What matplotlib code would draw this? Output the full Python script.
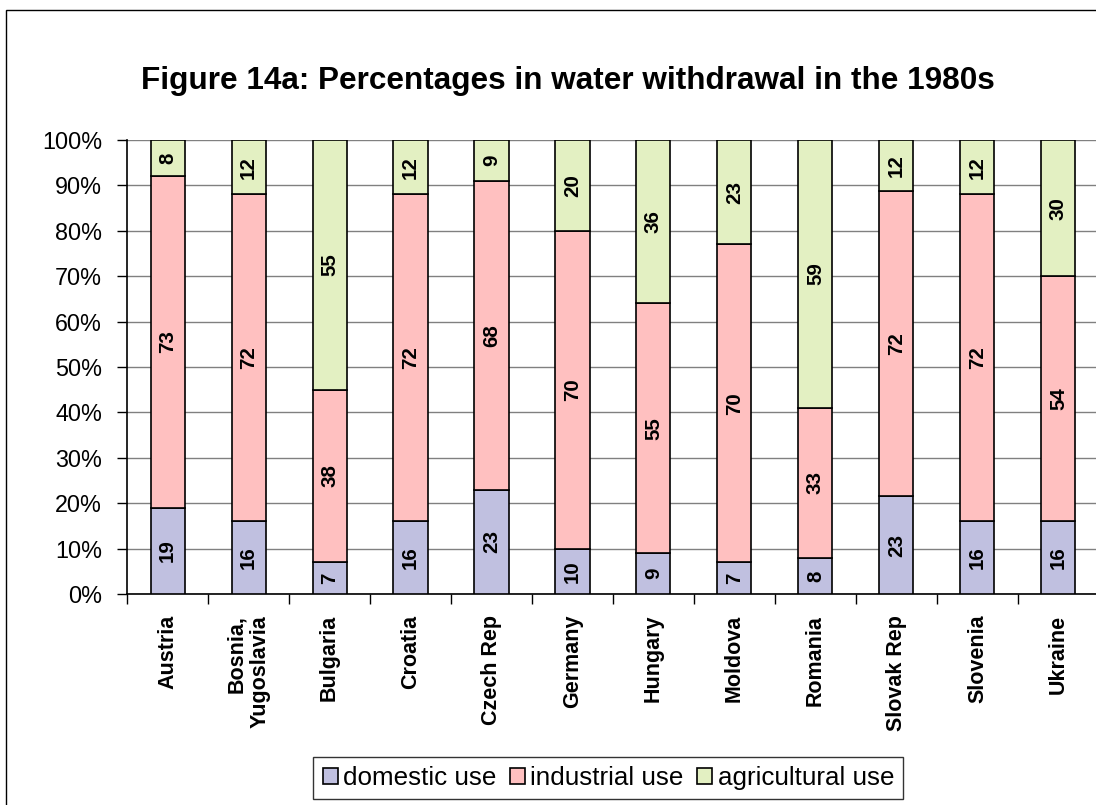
#!/usr/bin/env python3
"""Figure 14a - percentages in water withdrawal in the 1980s.

    100% stacked bar chart: domestic, industrial and agricultural use.
"""
import numpy as np
import matplotlib.pyplot as plt
import matplotlib.patches as mpatches

#---------------------------- Data -------------------------------------
countries = ['Austria', 'Bosnia,\nYugoslavia', 'Bulgaria', 'Croatia',
             'Czech Rep', 'Germany', 'Hungary', 'Moldova', 'Romania',
             'Slovak Rep', 'Slovenia', 'Ukraine']
domestic = [19, 16, 7, 16, 23, 10, 9, 7, 8, 23, 16, 16]
industrial = [73, 72, 38, 72, 68, 70, 55, 70, 33, 72, 72, 54]
agricultural = [8, 12, 55, 12, 9, 20, 36, 23, 59, 12, 12, 30]

series_names = ['domestic use', 'industrial use', 'agricultural use']
series_colors = ['#C0C0E0', '#FFC0C0', '#E3F0C2']
pct_ticks = [0, 10, 20, 30, 40, 50, 60, 70, 80, 90, 100]

TITLE = 'Figure 14a: Percentages in water withdrawal in the 1980s'


#---------------------------- main -------------------------------------
def main():
    plt.rcParams['font.family'] = ['Liberation Sans', 'DejaVu Sans']

    fig = plt.figure(figsize=(10.96, 8.05), dpi=100)
    ax = fig.add_axes([0.1159, 0.2621, 0.8868, 0.5640])

    # normalise each country to 100% (rows don't always add up exactly)
    raw = np.array([domestic, industrial, agricultural], dtype=float)
    shares = raw / raw.sum(axis=0) * 100.0

    x = np.arange(len(countries))
    bottom = np.zeros(len(countries))
    for i in range(len(series_names)):
        ax.bar(x, shares[i], 0.42, bottom=bottom, color=series_colors[i],
               edgecolor='black', linewidth=1.2, label=series_names[i],
               zorder=3)
        # value labels, centred in each segment
        for j in range(len(countries)):
            ax.text(x[j], bottom[j] + shares[i][j] / 2.0, str(int(raw[i][j])),
                    rotation=90, ha='center', va='center', fontsize=14.8,
                    fontweight='bold', zorder=4)
        bottom = bottom + shares[i]

    # axes look
    ax.set_xlim(-0.5, len(countries) - 0.5)
    ax.set_ylim(0, 100)
    ax.set_yticks(pct_ticks)
    ax.set_yticklabels(['%d%%' % t for t in pct_ticks], fontsize=16.8)
    ax.yaxis.grid(True, color='#808080', linewidth=1.0, zorder=0)
    ax.tick_params(axis='y', length=7, width=1, pad=11)

    ax.set_xticks(x)
    ax.set_xticklabels(countries, rotation=90, fontsize=15.5,
                       fontweight='bold', ha='center', va='top',
                       multialignment='right')
    ax.set_xticks(np.arange(len(countries) + 1) - 0.5, minor=True)
    ax.tick_params(axis='x', which='major', length=0, pad=15)
    ax.tick_params(axis='x', which='minor', length=7, width=1)

    for side in ['top', 'right']:
        ax.spines[side].set_visible(False)
    ax.spines['left'].set_linewidth(1.2)
    ax.spines['bottom'].set_linewidth(1.2)

    fig.text(0.518, 0.900, TITLE, ha='center', va='center', fontsize=22.7,
             fontweight='bold')

    leg = ax.legend(loc='center', bbox_to_anchor=(0.555, 0.0335),
                    bbox_transform=fig.transFigure, ncol=3, fontsize=18.7,
                    frameon=True, fancybox=False, handlelength=0.6,
                    handleheight=0.6, handletextpad=0.2, columnspacing=0.5,
                    borderpad=0.35, borderaxespad=0)
    leg.get_frame().set_edgecolor('black')
    leg.get_frame().set_linewidth(1.0)

    # outer chart border (runs off the right and bottom edges)
    border = mpatches.Rectangle((0.0055, -0.02), 1.05, 1.0076,
                                transform=fig.transFigure, fill=False,
                                edgecolor='black', linewidth=1.0)
    fig.patches.append(border)

    fig.savefig('out.png', dpi=100)
    return 0


if __name__ == "__main__":
    main()
